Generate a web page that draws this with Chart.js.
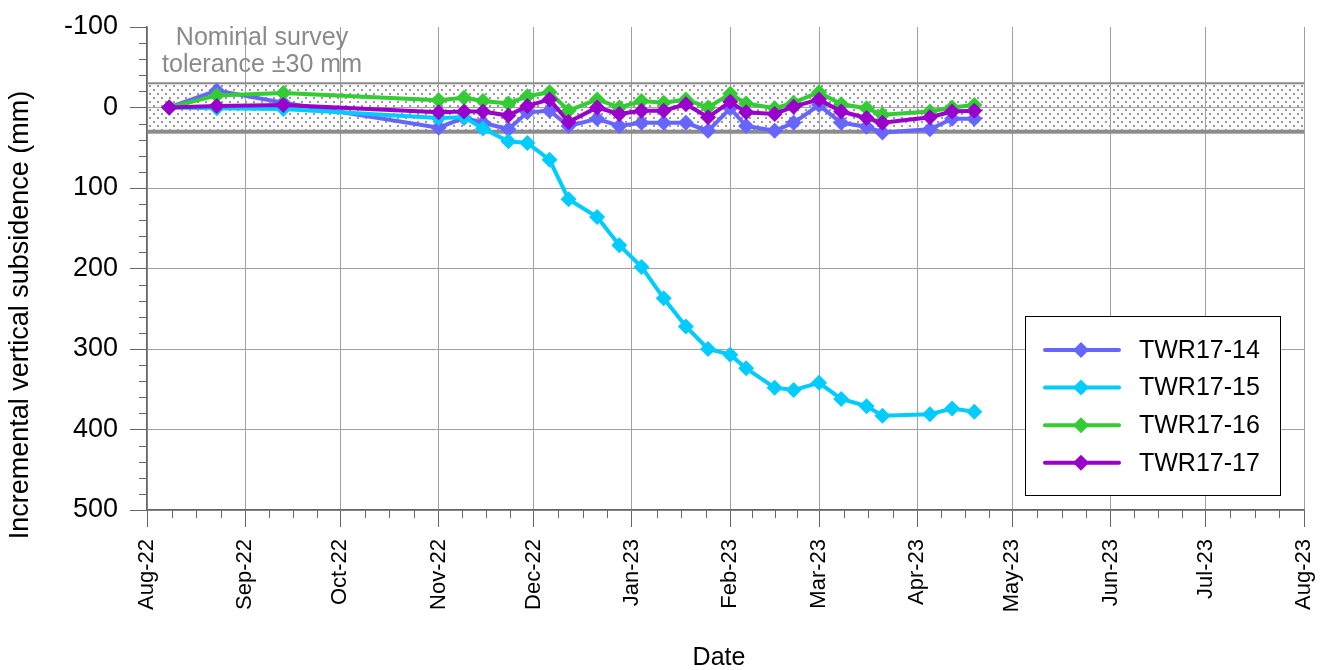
<!DOCTYPE html>
<html>
<head>
<meta charset="utf-8">
<script src="https://cdn.jsdelivr.net/npm/chart.js@4/dist/chart.umd.min.js"></script>
<style>
html,body{margin:0;padding:0;background:#fff;}
#wrap{width:1328px;height:670px;position:relative;}
</style>
</head>
<body>
<div id="wrap"><canvas id="c" width="1328" height="670"></canvas></div>
<script>
// ---- data ----
const surveyDates = ["2022-08-08","2022-08-23","2022-09-13","2022-11-01","2022-11-09","2022-11-15","2022-11-23","2022-11-29","2022-12-06","2022-12-12","2022-12-21","2022-12-28","2023-01-04","2023-01-11","2023-01-18","2023-01-25","2023-02-01","2023-02-06","2023-02-15","2023-02-21","2023-03-01","2023-03-08","2023-03-16","2023-03-21","2023-04-05","2023-04-12","2023-04-19"];
const seriesNames = ["TWR17-14","TWR17-15","TWR17-16","TWR17-17"];
const twr14 = [0,-21,-6,25,13,19,27,6,4,23,14,23,19,19,19,29,1,23,29,19,-3,19,24,31,27,14,14];
const twr15 = [0,1,2,13,12,26,42,44,65,114,136,171,198,237,272,300,307,324,348,351,342,362,371,383,381,374,378];
const twr16 = [0,-15,-18,-9,-12,-8,-5,-14,-19,4,-10,0,-8,-6,-10,0,-17,-5,1,-6,-19,-4,1,9,5,0,-3];
const twr17 = [0,-2,-3,6,5,5,10,-2,-10,18,0,8,4,4,-4,12,-7,6,8,-1,-10,5,13,19,12,5,4];
const monthTickDates = ["2022-08-01","2022-09-01","2022-10-01","2022-11-01","2022-12-01","2023-01-01","2023-02-01","2023-03-01","2023-04-01","2023-05-01","2023-06-01","2023-07-01","2023-08-01"];
const monthTickLabels = ["Aug-22","Sep-22","Oct-22","Nov-22","Dec-22","Jan-23","Feb-23","Mar-23","Apr-23","May-23","Jun-23","Jul-23","Aug-23"];
const yTickValues = [-100,0,100,200,300,400,500];
const toleranceBand = [-30,30];
const toleranceText = ["Nominal survey","tolerance \u00B130 mm"];
const yTitle = "Incremental vertical subsidence (mm)";
const xTitle = "Date";

// ---- helpers ----
const FONT = "'Liberation Sans', Arial, sans-serif";
const baseDay = Date.UTC(2022,7,1);
function dayOf(s){const p=s.split('-').map(Number);return (Date.UTC(p[0],p[1]-1,p[2])-baseDay)/86400000;}
const colors = ["#6666FF","#00CCFF","#33CC33","#9900CC"];
const seriesVals = [twr14,twr15,twr16,twr17];

const datasets = seriesVals.map((vals,i)=>({
  label: seriesNames[i],
  data: vals.map((v,j)=>({x: dayOf(surveyDates[j]), y: v})),
  borderColor: colors[i],
  backgroundColor: colors[i],
  borderWidth: 4,
  pointStyle: 'rectRot',
  pointRadius: 8,
  pointHoverRadius: 8,
  pointBorderWidth: 0,
  pointBackgroundColor: colors[i],
  tension: 0,
  order: 3 - i,
  clip: false
}));

function makePattern(ctx){
  const c=document.createElement('canvas');c.width=8;c.height=8;
  const g=c.getContext('2d');
  g.fillStyle='#fbfbfb';g.fillRect(0,0,8,8);
  g.fillStyle='#9a9a9a';
  g.fillRect(1,1,2,2);g.fillRect(5,5,2,2);
  return ctx.createPattern(c,'repeat');
}

const bandPlugin = {
  id:'band',
  beforeDraw(chart){
    const {ctx, chartArea:a, scales:{x,y}} = chart;
    const y1=y.getPixelForValue(toleranceBand[0]), y2=y.getPixelForValue(toleranceBand[1]);
    ctx.save();
    ctx.fillStyle=makePattern(ctx);
    ctx.fillRect(a.left,y1,a.right-a.left,y2-y1);
    ctx.restore();
  },
  beforeDatasetsDraw(chart){
    const {ctx, chartArea:a, scales:{x,y}} = chart;
    const y1=y.getPixelForValue(toleranceBand[0]), y2=y.getPixelForValue(toleranceBand[1]);
    ctx.save();
    ctx.strokeStyle='#8c8c8c';
    ctx.lineWidth=2;
    ctx.beginPath();ctx.moveTo(a.left,y1);ctx.lineTo(a.right,y1);ctx.stroke();
    ctx.lineWidth=4;
    ctx.beginPath();ctx.moveTo(a.left,y2);ctx.lineTo(a.right,y2);ctx.stroke();
    ctx.fillStyle='#8a8a8a';
    ctx.font='25px '+FONT;
    ctx.textAlign='center';ctx.textBaseline='middle';
    ctx.fillText(toleranceText[0], a.left+115, 38);
    ctx.fillText(toleranceText[1], a.left+115, 65);
    ctx.restore();
  },
  afterDraw(chart){
    const {ctx, chartArea:a, scales:{x,y}} = chart;
    ctx.save();
    ctx.strokeStyle='#666';ctx.lineWidth=1;
    for(let v=-100; v<=500; v+=20){
      if(v%100===0) continue;
      const py=Math.round(y.getPixelForValue(v))+0.5;
      ctx.beginPath();ctx.moveTo(a.left-8,py);ctx.lineTo(a.left,py);ctx.stroke();
    }
    for(let i=0;i<monthTickDates.length-1;i++){
      const d0=dayOf(monthTickDates[i]), d1=dayOf(monthTickDates[i+1]);
      for(let k=1;k<4;k++){
        const px=Math.round(x.getPixelForValue(d0+(d1-d0)*k/4))+0.5;
        ctx.beginPath();ctx.moveTo(px,a.bottom);ctx.lineTo(px,a.bottom+8);ctx.stroke();
      }
    }
    ctx.fillStyle='#000';
    ctx.font='27px '+FONT;
    ctx.textAlign='center';ctx.textBaseline='middle';
    ctx.save();
    ctx.translate(21,315);ctx.rotate(-Math.PI/2);
    ctx.fillText(yTitle,0,0);
    ctx.restore();
    ctx.font='25px '+FONT;
    ctx.fillText(xTitle,719,658);
    // legend
    const bx=a.right-279, by=316, bw=255, bh=179;
    ctx.fillStyle='#fff';ctx.fillRect(bx,by,bw,bh);
    ctx.strokeStyle='#000';ctx.lineWidth=1;
    ctx.strokeRect(bx+0.5,by+0.5,bw,bh);
    chart.data.datasets.forEach((ds,i)=>{
      const ry=by+34+i*37.6;
      ctx.strokeStyle=ds.borderColor;ctx.lineWidth=4;ctx.lineCap='round';
      ctx.beginPath();ctx.moveTo(bx+20,ry);ctx.lineTo(bx+94,ry);ctx.stroke();
      const cx=bx+56, r=8;
      ctx.fillStyle=ds.borderColor;
      ctx.beginPath();ctx.moveTo(cx,ry-r);ctx.lineTo(cx+r,ry);ctx.lineTo(cx,ry+r);ctx.lineTo(cx-r,ry);ctx.closePath();ctx.fill();
      ctx.fillStyle='#000';ctx.font='25px '+FONT;ctx.textAlign='left';ctx.textBaseline='middle';
      ctx.fillText(ds.label,bx+114,ry+1);
    });
    ctx.restore();
  }
};

new Chart(document.getElementById('c'),{
  type:'line',
  data:{datasets},
  options:{
    responsive:false,
    animation:false,
    events:[],
    layout:{padding:{top:27,right:24,left:0,bottom:0}},
    plugins:{legend:{display:false},tooltip:{enabled:false}},
    scales:{
      x:{
        type:'linear',position:'bottom',min:0,max:365,
        afterBuildTicks(s){s.ticks=monthTickDates.map(d=>({value:dayOf(d)}));},
        afterFit(s){s.height=160;s.paddingLeft=0;s.paddingRight=0;},
        ticks:{autoSkip:false,minRotation:90,maxRotation:90,padding:12,color:'#000',
          font:{family:FONT,size:22},
          callback:(v,i)=>monthTickLabels[i]},
        grid:{color:'#a0a0a0',lineWidth:1,tickLength:17,tickColor:'#666'},
        border:{color:'#666',width:1.5}
      },
      y:{
        type:'linear',reverse:true,min:-100,max:500,
        afterBuildTicks(s){s.ticks=yTickValues.map(v=>({value:v}));},
        afterFit(s){s.width=147;s.paddingTop=0;s.paddingBottom=0;},
        ticks:{padding:12,color:'#000',font:{family:FONT,size:27},callback:(v)=>String(v)},
        grid:{color:(c)=> (c.tick && c.tick.value===-100) ? 'rgba(0,0,0,0)' : '#a0a0a0',lineWidth:1,tickLength:17,tickColor:'#666'},
        border:{color:'#666',width:1.5}
      }
    }
  },
  plugins:[bandPlugin]
});
</script>
</body>
</html>
